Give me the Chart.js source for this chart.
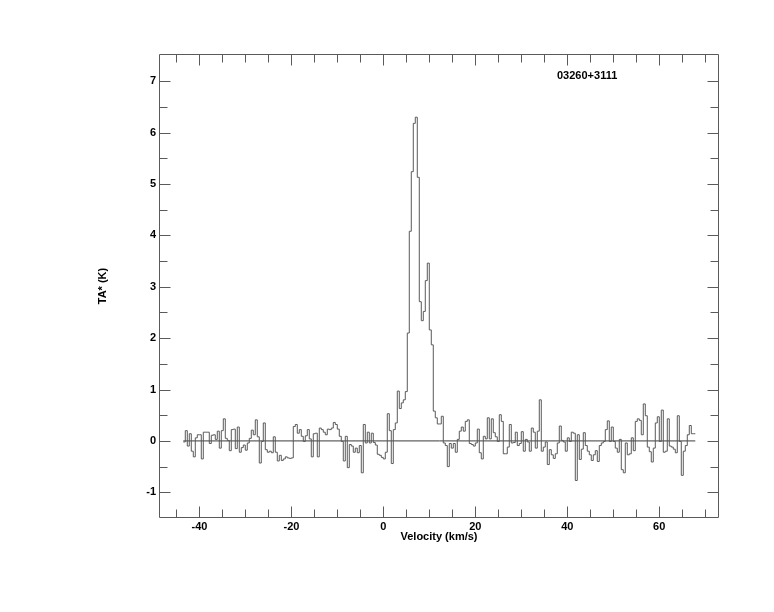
<!DOCTYPE html>
<html>
<head>
<meta charset="utf-8">
<title>03260+3111</title>
<script src="https://cdn.jsdelivr.net/npm/chart.js@4.4.0/dist/chart.umd.min.js"></script>
<style>
  html, body { margin: 0; padding: 0; background: #fff; }
  canvas { display: block; }
</style>
</head>
<body>
<canvas id="spectrum" width="774" height="612"></canvas>
<script>
// Source name shown in the upper right of the plot
const sourceName = "03260+3111";

// Velocity grid: centre of the first channel and channel width (km/s)
const velocityStart = -43.3;
const channelWidth = 0.435;

// Antenna temperature TA* (K), one value per channel
const antennaTemp = [
  -0.02, 0.20, -0.10, 0.14, -0.20, -0.31, 0.06, 0.12, 0.12, -0.35, 0.17, 0.17, 0.17, -0.05, 0.11, 0.12,
  0.03, 0.19, -0.14, 0.20, 0.43, 0.05, 0.01, -0.19, 0.22, 0.23, -0.15, 0.27, -0.22, -0.13, -0.08, -0.18,
  -0.04, 0.05, 0.21, 0.12, 0.41, 0.08, -0.43, -0.01, 0.35, -0.17, -0.22, -0.20, -0.23, 0.08, -0.22, -0.39,
  -0.28, -0.38, -0.35, -0.31, -0.33, -0.34, -0.33, 0.28, 0.32, 0.15, 0.22, 0.09, -0.01, 0.10, 0.22, 0.04,
  -0.31, 0.14, 0.15, -0.31, 0.25, 0.22, 0.17, 0.12, 0.23, 0.22, 0.25, 0.36, 0.32, 0.23, 0.09, -0.01,
  -0.39, 0.09, -0.52, -0.07, -0.10, -0.22, -0.14, -0.23, -0.09, -0.62, 0.32, -0.04, 0.17, -0.04, 0.15, -0.03,
  -0.08, -0.26, -0.28, -0.32, -0.35, -0.22, 0.53, 0.20, -0.44, 0.22, 0.35, 0.97, 0.63, 0.74, 0.80, 0.96,
  2.10, 4.08, 5.24, 6.18, 6.30, 5.13, 2.71, 2.34, 2.52, 3.12, 3.46, 2.16, 1.87, 0.58, 0.45, 0.33,
  0.33, 0.48, -0.04, -0.09, -0.50, -0.05, -0.14, -0.05, -0.22, 0.03, 0.19, 0.27, 0.19, 0.38, 0.41, -0.05,
  -0.07, -0.10, -0.04, 0.23, -0.23, -0.35, 0.09, 0.04, 0.45, 0.04, 0.43, 0.16, 0.08, -0.01, 0.51, 0.38,
  -0.25, -0.25, -0.12, 0.32, -0.04, -0.03, 0.17, -0.09, -0.05, 0.18, -0.20, 0.03, -0.02, -0.20, 0.25, 0.17,
  -0.14, 0.19, 0.80, -0.20, -0.12, -0.02, -0.46, -0.17, -0.27, -0.34, -0.25, -0.04, 0.29, 0.01, -0.02, -0.20,
  0.06, -0.01, 0.17, 0.15, -0.77, 0.12, -0.36, -0.16, 0.16, -0.09, -0.20, -0.27, -0.38, -0.27, -0.19, -0.40,
  -0.09, -0.04, -0.01, 0.22, 0.39, -0.01, 0.27, -0.01, -0.14, -0.22, 0.03, -0.56, -0.62, -0.04, -0.27, -0.25,
  0.06, -0.19, 0.38, 0.43, 0.40, 0.12, 0.72, 0.49, -0.12, -0.21, -0.41, -0.14, 0.35, 0.47, -0.01, 0.60,
  -0.22, -0.20, 0.43, -0.10, -0.12, -0.16, -0.23, 0.49, -0.01, -0.67, -0.20, -0.09, 0.12, 0.30, 0.14, 0.14,
];

// Axis ranges and labelled ticks
const velocityRange = [-48.8, 73];
const tempRange = [-1.5, 7.53];
const velocityTicks = [-40, -20, 0, 20, 40, 60];
const tempTicks = [-1, 0, 1, 2, 3, 4, 5, 6, 7];

const labelFont = { family: "'Liberation Sans', Arial, sans-serif", size: 11, weight: "bold" };
const lineColor = "#5a5a5a";

/**
 * Turn channel values into step points at the channel left edges,
 * plus one closing point at the right edge of the last channel
 */
function buildSteps(values) {
  const points = values.map((v, i) => ({
    x: velocityStart + (i - 0.5) * channelWidth,
    y: v,
  }));
  points.push({
    x: velocityStart + (values.length - 0.5) * channelWidth,
    y: values[values.length - 1],
  });
  return points;
}

const steps = buildSteps(antennaTemp);
// Zero level drawn across the observed band
const baseline = [
  { x: steps[0].x, y: 0 },
  { x: steps[steps.length - 1].x, y: 0 },
];

// Box around the plot with inward ticks on all four sides, plus source name
const framePlugin = {
  id: "frame",
  afterDatasetsDraw(chart) {
    const { ctx, chartArea: a, scales } = chart;
    const L = Math.round(a.left) + 0.5;
    const R = Math.round(a.right) - 0.5;
    const T = Math.round(a.top) + 0.5;
    const B = Math.round(a.bottom) - 0.5;

    ctx.save();
    ctx.strokeStyle = lineColor;
    ctx.lineWidth = 1;
    ctx.beginPath();
    ctx.rect(L, T, R - L, B - T);

    // velocity ticks every 5 km/s
    for (let k = -9; k <= 14; k++) {
      const v = k * 5;
      const px = Math.round(scales.x.getPixelForValue(v)) + 0.5;
      const len = v % 20 === 0 ? 11 : 8;
      ctx.moveTo(px, B);
      ctx.lineTo(px, B - len);
      ctx.moveTo(px, T);
      ctx.lineTo(px, T + len);
    }

    // temperature ticks every 0.5 K
    for (let k = -2; k <= 14; k++) {
      const v = k * 0.5;
      const py = Math.round(scales.y.getPixelForValue(v)) + 0.5;
      const len = k % 2 === 0 ? 11 : 8;
      ctx.moveTo(L, py);
      ctx.lineTo(L + len, py);
      ctx.moveTo(R, py);
      ctx.lineTo(R - len, py);
    }
    ctx.stroke();

    ctx.fillStyle = "#000";
    ctx.font = `bold ${labelFont.size}px ${labelFont.family}`;
    ctx.textAlign = "left";
    ctx.textBaseline = "middle";
    ctx.fillText(sourceName, a.right - 162, a.top + 22);
    ctx.restore();
  },
};

const ctx = document.getElementById("spectrum").getContext("2d");
new Chart(ctx, {
  type: "line",
  data: {
    datasets: [
      {
        data: steps,
        stepped: "before",
        borderColor: lineColor,
        borderWidth: 1,
        pointRadius: 0,
        fill: false,
      },
      {
        data: baseline,
        borderColor: "#3a3a3a",
        borderWidth: 1,
        pointRadius: 0,
        fill: false,
      },
    ],
  },
  options: {
    responsive: false,
    animation: false,
    layout: { padding: { left: 0, top: 54, right: 55, bottom: 0 } },
    plugins: {
      legend: { display: false },
      tooltip: { enabled: false },
    },
    scales: {
      x: {
        type: "linear",
        min: velocityRange[0],
        max: velocityRange[1],
        afterBuildTicks: (scale) => {
          scale.ticks = velocityTicks.map((v) => ({ value: v }));
        },
        afterFit: (scale) => {
          scale.height = 94;
        },
        grid: { display: false, drawTicks: false },
        border: { display: false },
        ticks: { font: labelFont, color: "#000", padding: 2, maxRotation: 0, autoSkip: false },
        title: {
          display: true,
          text: "Velocity (km/s)",
          font: labelFont,
          color: "#000",
          padding: { top: 0, bottom: 68 },
        },
      },
      y: {
        type: "linear",
        min: tempRange[0],
        max: tempRange[1],
        afterBuildTicks: (scale) => {
          scale.ticks = tempTicks.map((v) => ({ value: v }));
        },
        afterFit: (scale) => {
          scale.width = 159;
        },
        grid: { display: false, drawTicks: false },
        border: { display: false },
        ticks: { font: labelFont, color: "#000", padding: 3 },
        title: {
          display: true,
          text: "TA* (K)",
          font: labelFont,
          color: "#000",
          padding: { top: 96, bottom: 0 },
        },
      },
    },
  },
  plugins: [framePlugin],
});
</script>
</body>
</html>
